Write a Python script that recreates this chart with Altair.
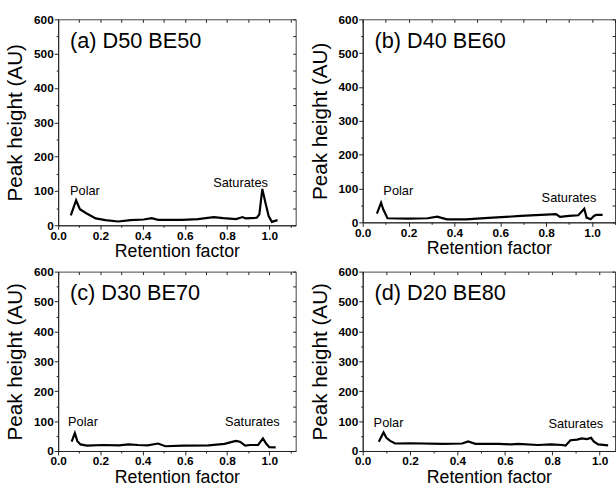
import altair as alt
import pandas as pd

# ---- data ----
a_x = [0.060, 0.085, 0.103, 0.133, 0.178, 0.224, 0.284, 0.344, 0.405, 0.443, 0.473, 0.586,
       0.662, 0.737, 0.782, 0.843, 0.873, 0.888, 0.941, 0.953, 0.967, 0.982, 0.997, 1.012, 1.039]
a_y = [29, 73, 47, 35, 20, 15, 11, 15, 17, 21, 16, 16,
       18, 24, 21, 18, 24, 20, 22, 32, 106, 65, 27, 10, 15]

b_x = [0.062, 0.080, 0.090, 0.108, 0.199, 0.283, 0.325, 0.367, 0.450, 0.549, 0.689, 0.843,
       0.860, 0.900, 0.940, 0.966, 0.976, 0.994, 1.008, 1.018, 1.046]
b_y = [26, 58, 38, 12, 11, 12, 17, 9, 9, 13, 19, 24,
       16, 19, 21, 40, 14, 9, 19, 22, 22]

c_x = [0.064, 0.079, 0.091, 0.106, 0.136, 0.212, 0.288, 0.333, 0.379, 0.424, 0.473, 0.508,
       0.591, 0.712, 0.788, 0.841, 0.861, 0.886, 0.909, 0.947, 0.970, 0.985, 1.000, 1.030]
c_y = [31, 60, 33, 22, 18, 20, 19, 22, 20, 19, 25, 16,
       18, 19, 24, 34, 31, 18, 20, 20, 42, 25, 13, 12]

d_x = [0.068, 0.088, 0.100, 0.116, 0.137, 0.199, 0.337, 0.420, 0.445, 0.476, 0.573, 0.628,
       0.656, 0.739, 0.794, 0.842, 0.856, 0.877, 0.905, 0.925, 0.946, 0.964, 0.976, 0.994, 1.036]
d_y = [31, 62, 44, 34, 25, 26, 24, 25, 32, 24, 24, 22,
       24, 20, 22, 20, 18, 36, 38, 42, 40, 44, 31, 22, 19]

panel_labels = ["(a) D50 BE50", "(b) D40 BE60", "(c) D30 BE70", "(d) D20 BE80"]
ann_text = ["Polar", "Saturates"]
ann_x = [[0.056, 0.734], [0.090, 0.780], [0.047, 0.790], [0.046, 0.784]]
ann_y = [[89, 112], [82, 59], [82, 82], [79, 76]]

x_ticks = [round(i * 0.1, 1) for i in range(12)]
y_ticks = list(range(0, 601, 50))

FONT = "Liberation Sans"
LINE = "#000000"
AXC = "#222222"


def panel(xs, ys, label, ax, ay, width, height, xmax):
    df = pd.DataFrame({"x": xs, "y": ys})
    xs_scale = alt.Scale(domain=[0, xmax], nice=False, zero=False)
    ys_scale = alt.Scale(domain=[0, 600], nice=False)
    vals_x = [v for v in x_ticks if v <= xmax + 1e-9]

    x_axis = alt.Axis(
        values=vals_x,
        labelExpr="round(datum.value*10) % 2 == 0 ? format(datum.value, '.1f') : ''",
        tickSize={"condition": {"test": "round(datum.value*10) % 2 == 0", "value": 4}, "value": 2},
        title="Retention factor", titleFontSize=18, titleFontWeight="normal",
        titleFont=FONT, titlePadding=2, labelFont=FONT, labelFontSize=12,
        labelFontWeight="bold", labelPadding=1, grid=False, domainColor=AXC,
        tickColor=AXC, labelColor="black", titleColor="black", labelFlush=False,
        labelOverlap=False,
    )
    y_axis = alt.Axis(
        values=y_ticks,
        labelExpr="datum.value % 100 == 0 ? datum.value : ''",
        tickSize={"condition": {"test": "datum.value % 100 == 0", "value": 4}, "value": 2},
        title="Peak height (AU)", titleFontSize=21, titleFontWeight="normal",
        titleFont=FONT, titlePadding=8, labelFont=FONT, labelFontSize=12,
        labelFontWeight="bold", labelPadding=1, grid=False, domainColor=AXC,
        tickColor=AXC, labelColor="black", titleColor="black", labelFlush=False,
        labelOverlap=False,
    )
    line = alt.Chart(df).mark_line(color=LINE, strokeWidth=2.2).encode(
        x=alt.X("x:Q", scale=xs_scale, axis=x_axis),
        y=alt.Y("y:Q", scale=ys_scale, axis=y_axis),
    )
    mirror = alt.Chart(df).mark_line(strokeOpacity=0).encode(
        x=alt.X("x:Q", scale=xs_scale,
                axis=alt.Axis(orient="top", values=vals_x, labels=False, title=None,
                              domain=False, tickSize=3, offset=-3, grid=False, tickColor=AXC)),
        y=alt.Y("y:Q", scale=ys_scale,
                axis=alt.Axis(orient="right", values=y_ticks, labels=False, title=None,
                              domain=False, tickSize=3, offset=-3, grid=False, tickColor=AXC)),
    )
    adf = pd.DataFrame({"x": ax, "y": ay, "t": ann_text})
    ann = alt.Chart(adf).mark_text(
        align="left", baseline="alphabetic", font=FONT, fontSize=13, color="black"
    ).encode(
        x=alt.X("x:Q", scale=xs_scale, axis=None),
        y=alt.Y("y:Q", scale=ys_scale, axis=None),
        text="t:N",
    )
    ldf = pd.DataFrame({"t": [label]})
    lab = alt.Chart(ldf).mark_text(
        align="left", baseline="alphabetic", font=FONT, fontSize=22, color="black"
    ).encode(x=alt.value(12), y=alt.value(29), text="t:N")

    return (
        alt.layer(line, mirror, ann, lab)
        .resolve_axis(x="independent", y="independent")
        .properties(width=width, height=height)
    )


pa = panel(a_x, a_y, panel_labels[0], ann_x[0], ann_y[0], 241, 209, 1.125)
pb = panel(b_x, b_y, panel_labels[1], ann_x[1], ann_y[1], 256, 206, 1.10)
pc = panel(c_x, c_y, panel_labels[2], ann_x[2], ann_y[2], 241, 182, 1.125)
pd_ = panel(d_x, d_y, panel_labels[3], ann_x[3], ann_y[3], 256, 182, 1.065)

chart = alt.vconcat(
    alt.hconcat(pa, pb, spacing=12),
    alt.hconcat(pc, pd_, spacing=12),
    spacing=3,
).properties(
    padding={"left": 4, "top": 9, "right": 0, "bottom": 0},
    background="white",
).configure_view(stroke="#444444", strokeWidth=1)

chart.save("out.html", embed_options={"renderer": "svg", "actions": False})
